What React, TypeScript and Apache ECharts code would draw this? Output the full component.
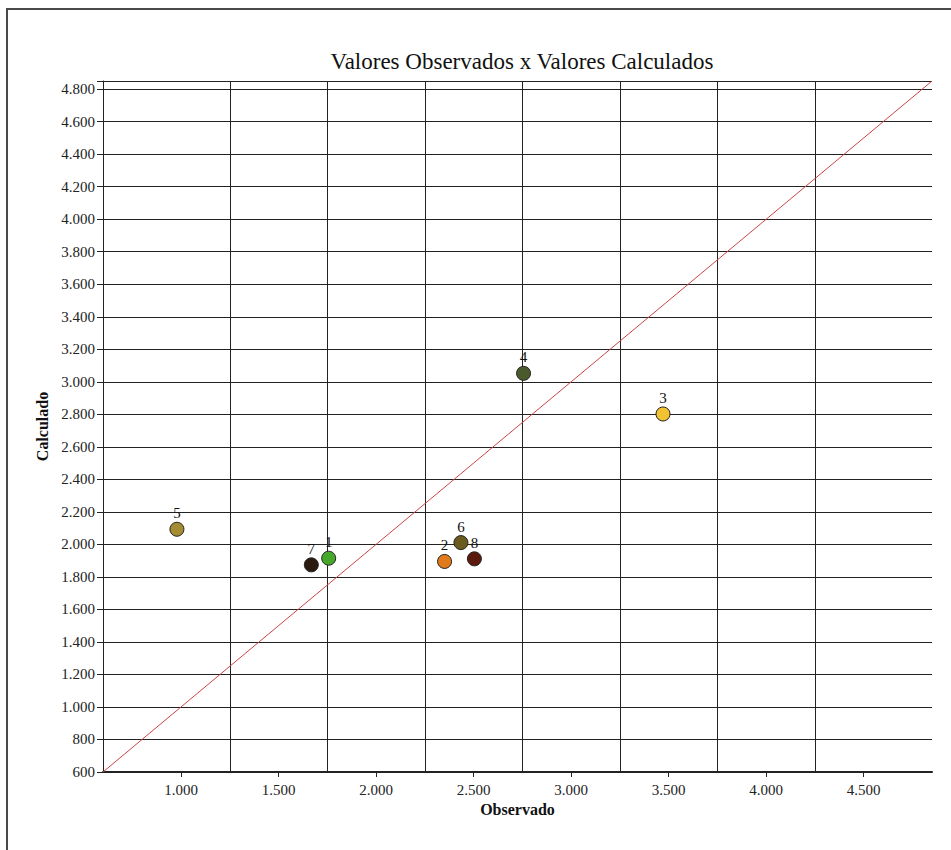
import React, { useEffect, useRef } from "react";
import * as echarts from "echarts";

const pointIds = ["1", "2", "3", "4", "5", "6", "7", "8"];
const observed = [1757, 2351, 3471, 2756, 979, 2435, 1668, 2504];
const calculated = [1915, 1895, 2802, 3052, 2093, 2011, 1874, 1911];
const pointColors = ["#46a82a", "#e07a1a", "#f2c232", "#4b5a2c", "#a38c32", "#6a5a1e", "#2b1a0e", "#5c1a0c"];
const xTickValues = [1000, 1500, 2000, 2500, 3000, 3500, 4000, 4500];
const xGridValues = [1250, 1750, 2250, 2750, 3250, 3750, 4250];
const diagonal = [[600, 600], [4850, 4850]];

const FONT = "'Liberation Serif', 'Times New Roman', serif";

const fmt = (v: number) => {
  const t = Math.floor(v / 1000);
  const r = Math.round(v % 1000);
  return t > 0 ? `${t}.${String(r).padStart(3, "0")}` : String(r);
};

export default function App() {
  const ref = useRef<HTMLDivElement>(null);
  useEffect(() => {
    if (!ref.current) return;
    const chart = echarts.init(ref.current, null, { renderer: "svg" });
    chart.setOption({
      animation: false,
      backgroundColor: "#ffffff",
      title: {
        text: "Valores Observados x Valores Calculados",
        left: 517,
        top: 45,
        textAlign: "center",
        textStyle: { fontFamily: FONT, fontSize: 23, fontWeight: "normal", color: "#111" },
      },
      graphic: [
        {
          type: "rect",
          shape: { x: 7, y: 9, width: 980, height: 900 },
          style: { fill: "none", stroke: "#4a4a4a", lineWidth: 2 },
          silent: true,
        },
      ],
      grid: { left: 103, top: 81, width: 829, height: 691, containLabel: false },
      xAxis: {
        type: "value",
        min: 600,
        max: 4850,
        name: "Observado",
        nameLocation: "middle",
        nameGap: 29,
        nameTextStyle: { fontFamily: FONT, fontSize: 16, fontWeight: "bold", color: "#111" },
        axisLine: { show: true, lineStyle: { color: "#222", width: 2 } },
        axisTick: { show: true, length: 5, customValues: xTickValues, lineStyle: { color: "#222" } },
        axisLabel: {
          customValues: xTickValues,
          formatter: (v: number) => fmt(v),
          fontFamily: FONT,
          fontSize: 15,
          color: "#222",
          margin: 10,
        },
        splitLine: { show: false },
      },
      yAxis: {
        type: "value",
        min: 600,
        max: 4850,
        interval: 200,
        name: "Calculado",
        nameLocation: "middle",
        nameGap: 53,
        nameTextStyle: { fontFamily: FONT, fontSize: 16, fontWeight: "bold", color: "#111" },
        axisLine: { show: true, lineStyle: { color: "#222", width: 1 } },
        axisTick: { show: true, length: 6, lineStyle: { color: "#222" } },
        axisLabel: {
          formatter: (v: number) => (v % 200 === 0 ? fmt(v) : ""),
          fontFamily: FONT,
          fontSize: 15,
          color: "#222",
          margin: 8,
        },
        splitLine: { show: true, lineStyle: { color: "#222", width: 1 } },
      },
      series: [
        {
          type: "line",
          data: diagonal,
          symbol: "none",
          silent: true,
          lineStyle: { color: "#cc4444", width: 1 },
          z: 3,
          markLine: {
            silent: true,
            symbol: ["none", "none"],
            label: { show: false },
            lineStyle: { type: "solid", color: "#222", width: 1 },
            data: xGridValues.map((v) => ({ xAxis: v })),
            z: 2,
          },
        },
        {
          type: "scatter",
          symbol: "circle",
          symbolSize: 14,
          z: 5,
          data: observed.map((x, i) => ({
            value: [x, calculated[i]],
            name: pointIds[i],
            itemStyle: { color: pointColors[i], borderColor: "#222", borderWidth: 1, opacity: 1 },
          })),
          label: {
            show: true,
            position: "top",
            distance: 1,
            formatter: (p: any) => p.name,
            fontFamily: FONT,
            fontSize: 15,
            color: "#111",
          },
        },
      ],
    });
    return () => chart.dispose();
  }, []);
  return (
    <div
      ref={ref}
      style={{ position: "absolute", left: 0, top: 0, width: 951, height: 850 }}
    />
  );
}
